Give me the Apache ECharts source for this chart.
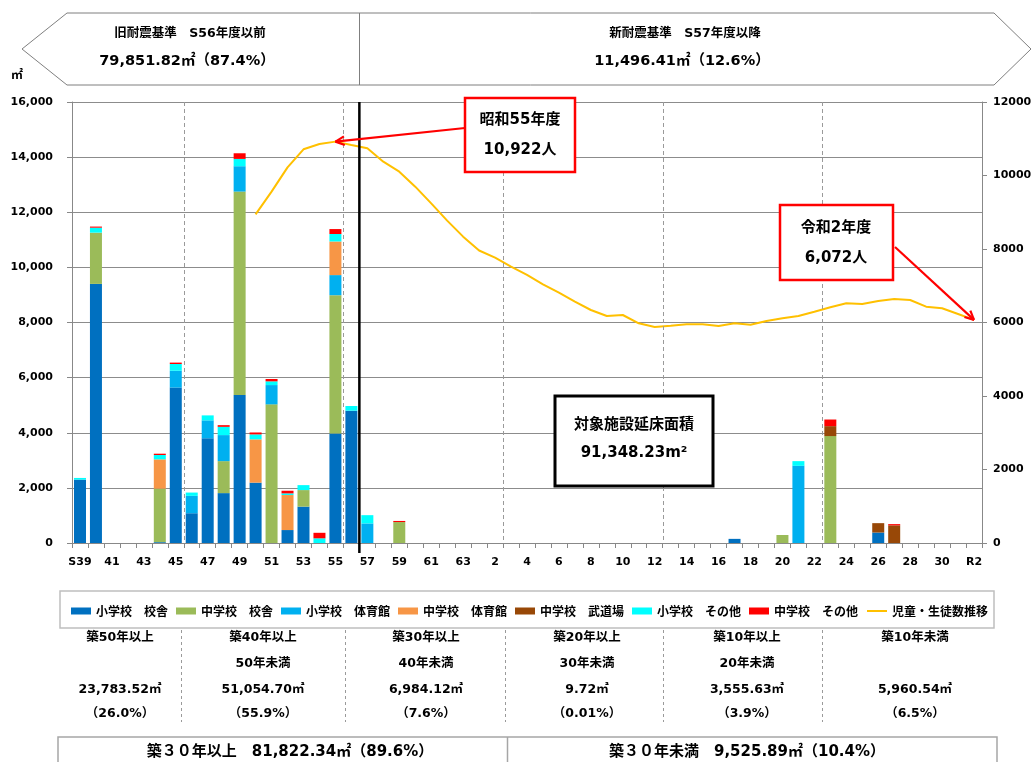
<!DOCTYPE html>
<html>
<head>
<meta charset="utf-8">
<script src="https://cdn.jsdelivr.net/npm/echarts@6/dist/echarts.min.js"></script>
<style>
html,body{margin:0;padding:0;background:#fff;}
#chart{width:1035px;height:762px;}
</style>
</head>
<body>
<div id="chart"></div>
<script>
// 建築年度（S39〜R2、S64/H1 と H31/R1 はそれぞれ 1 年度）
const years = [
  'S39','40','41','42','43','44','45','46','47','48',
  '49','50','51','52','53','54','55','56','57','58',
  '59','60','61','62','63','元','2','3','4','5',
  '6','7','8','9','10','11','12','13','14','15',
  '16','17','18','19','20','21','22','23','24','25',
  '26','27','28','29','30','31','R2'
];

// 延床面積（㎡）
const elemBldg = [
  2300,9400,0,0,0,30,5640,1080,3800,1810,
  5370,2190,0,470,1320,0,3970,4800,0,0,
  0,0,0,0,0,0,0,0,0,0,
  0,0,0,0,0,0,0,0,0,0,
  0,150,0,0,0,0,0,0,0,0,
  380,0,0,0,0,0,0
];
const juniorBldg = [
  0,1860,0,0,0,1940,0,0,0,1160,
  7380,0,5030,0,600,0,5020,0,0,0,
  760,0,0,0,0,0,0,0,0,0,
  0,0,0,0,0,0,0,0,0,0,
  0,0,0,0,290,0,0,3880,0,0,
  0,0,0,0,0,0,0
];
const elemGym = [
  0,0,0,0,0,0,610,630,650,945,
  920,0,700,0,0,0,730,0,710,0,
  0,0,0,0,0,0,0,0,0,0,
  0,0,0,0,0,0,0,0,0,0,
  0,0,0,0,0,2800,0,0,0,0,
  0,0,0,0,0,0,0
];
const juniorGym = [
  0,0,0,0,0,1065,0,0,0,0,
  0,1570,0,1270,0,0,1220,0,0,0,
  0,0,0,0,0,0,0,0,0,0,
  0,0,0,0,0,0,0,0,0,0,
  0,0,0,0,0,0,0,0,0,0,
  0,0,0,0,0,0,0
];
const juniorDojo = [
  0,0,0,0,0,0,0,0,0,0,
  0,0,0,0,0,0,0,0,0,0,
  0,0,0,0,0,0,0,0,0,0,
  0,0,0,0,0,0,0,0,0,0,
  0,0,0,0,0,0,0,360,0,0,
  340,640,0,0,0,0,0
];
const elemOther = [
  60,180,0,0,0,157,245,120,180,300,
  265,180,135,60,180,170,270,170,300,0,
  0,0,0,0,0,0,0,0,0,0,
  0,0,0,0,0,0,0,0,0,0,
  0,0,0,0,0,170,0,0,0,0,
  0,0,0,0,0,0,0
];
const juniorOther = [
  0,40,0,0,0,48,50,0,0,60,
  205,70,85,96,0,200,180,0,0,0,
  40,0,0,0,0,0,0,0,0,0,
  0,0,0,0,0,0,0,0,0,0,
  0,0,0,0,0,0,0,240,0,0,
  0,45,0,0,0,0,0
];

// 児童・生徒数（人）
const students = [
  null,null,null,null,null,null,null,null,null,null,
  null,8944,9560,10222,10713,10857,10922,10830,10740,10376,
  10104,9696,9243,8771,8336,7960,7764,7519,7293,7040,
  6811,6566,6340,6177,6204,5978,5880,5913,5950,5950,
  5905,5978,5940,6041,6114,6177,6294,6413,6522,6503,
  6585,6639,6612,6430,6386,6231,6072
];

const areaTicks = { min: 0, max: 16000, interval: 2000 };
const peopleTicks = { min: 0, max: 12000, interval: 2000 };

const barSeries = [
  { name: '小学校　校舎', data: elemBldg, color: '#0070C0' },
  { name: '中学校　校舎', data: juniorBldg, color: '#9BBB59' },
  { name: '小学校　体育館', data: elemGym, color: '#00B0F0' },
  { name: '中学校　体育館', data: juniorGym, color: '#F79646' },
  { name: '中学校　武道場', data: juniorDojo, color: '#984807' },
  { name: '小学校　その他', data: elemOther, color: '#00FFFF' },
  { name: '中学校　その他', data: juniorOther, color: '#FF0000' }
];
const lineName = '児童・生徒数推移';

const FONT = "'DejaVu Sans','Noto Sans CJK JP',sans-serif";
const JP = "'Noto Sans CJK JP','DejaVu Sans',sans-serif";

const chart = echarts.init(document.getElementById('chart'), null, { renderer: 'canvas' });

const series = barSeries.map(s => ({
  name: s.name,
  type: 'bar',
  stack: 'area',
  barWidth: 12,
  data: s.data,
  itemStyle: { color: s.color },
  emphasis: { disabled: true }
}));
series.push({
  name: lineName,
  type: 'line',
  yAxisIndex: 1,
  data: students,
  symbol: 'none',
  showSymbol: false,
  smooth: false,
  connectNulls: false,
  lineStyle: { color: '#FFC000', width: 2 },
  itemStyle: { color: '#FFC000' },
  z: 5
});

chart.setOption({
  animation: false,
  backgroundColor: '#ffffff',
  grid: { left: 72, right: 53, top: 102, bottom: 219, containLabel: false },
  legend: {
    left: 66,
    top: 600,
    itemWidth: 20,
    itemHeight: 7,
    itemGap: 8,
    selectedMode: false,
    textStyle: { fontSize: 12, fontWeight: 'bold', fontFamily: JP, color: '#000' },
    data: barSeries.map(s => ({ name: s.name, icon: 'rect' })).concat([{
      name: lineName,
      itemStyle: { opacity: 0 },
      lineStyle: { color: '#FFC000', width: 2 }
    }])
  },
  xAxis: {
    type: 'category',
    data: years,
    boundaryGap: true,
    axisLine: { lineStyle: { color: '#888', width: 1 } },
    axisTick: { show: true, interval: 0, length: 5, lineStyle: { color: '#888' } },
    axisLabel: { interval: 1, margin: 14, color: '#000', fontSize: 11, fontWeight: 'bold', fontFamily: FONT },
    splitLine: { show: false }
  },
  yAxis: [
    {
      type: 'value',
      min: areaTicks.min, max: areaTicks.max, interval: areaTicks.interval,
      axisLine: { show: true, lineStyle: { color: '#888' } },
      axisTick: { show: true, length: 5, lineStyle: { color: '#888' } },
      axisLabel: {
        margin: 19, color: '#000', fontSize: 11, fontWeight: 'bold', fontFamily: FONT,
        formatter: v => v.toLocaleString('en-US')
      },
      splitLine: { show: true, lineStyle: { color: '#8c8c8c', width: 1 } }
    },
    {
      type: 'value',
      min: peopleTicks.min, max: peopleTicks.max, interval: peopleTicks.interval,
      position: 'right',
      axisLine: { show: true, lineStyle: { color: '#888' } },
      axisTick: { show: true, length: 5, lineStyle: { color: '#888' } },
      axisLabel: {
        margin: 11, color: '#000', fontSize: 11, fontWeight: 'bold', fontFamily: FONT,
        formatter: v => String(v)
      },
      splitLine: { show: false }
    }
  ],
  series: series
});

// ---- overlay drawing: guides, header, annotations, table ----
const toPx = (idx, v, axis) => chart.convertToPixel({ xAxisIndex: 0, yAxisIndex: axis }, [idx, v]);
const catX = i => toPx(i, 0, 0)[0];
const boundaryX = k => (catX(k - 1) + catX(k)) / 2;
const plotTop = toPx(0, areaTicks.max, 0)[1];
const plotBottom = toPx(0, 0, 0)[1];

const g = [];
const txt = (text, x, y, size, extra) => g.push(Object.assign({
  type: 'text', z: 20,
  style: { text, x, y, align: 'center', verticalAlign: 'middle', fill: '#000',
           font: 'bold ' + size + 'px ' + FONT }
}, extra || {}));
const seg = (x1, y1, x2, y2, stroke, width, dash) => g.push({
  type: 'line', z: 15,
  shape: { x1, y1, x2, y2 },
  style: { stroke, lineWidth: width, lineDash: dash || null }
});

// 築年数区分の境界（破線）
[7, 17, 27, 37, 47].forEach(k => {
  const x = Math.round(boundaryX(k)) + 0.5;
  seg(x, plotTop, x, plotBottom, '#9a9a9a', 1, [4, 3]);
});
// 新耐震基準の境界（S56 / S57）
{
  const x = boundaryX(18);
  seg(x, plotTop, x, plotBottom + 10, '#000', 2.5);
}

// ヘッダー（旧耐震 / 新耐震）
g.push({
  type: 'polygon', z: 10,
  shape: { points: [[22, 49], [67, 13], [994, 13], [1031, 49], [994, 85], [67, 85]] },
  style: { fill: '#fff', stroke: '#7f7f7f', lineWidth: 1 }
});
seg(359.5, 13, 359.5, 85, '#7f7f7f', 1);
txt('旧耐震基準　S56年度以前', 190, 34, 12.5);
txt('79,851.82㎡（87.4%）', 187, 61, 14.5);
txt('新耐震基準　S57年度以降', 685, 34, 12.5);
txt('11,496.41㎡（12.6%）', 682, 61, 14.5);
txt('㎡', 17, 76, 12);

// 注記ボックス
const box = (x, y, w, h, stroke, width) => g.push({
  type: 'rect', z: 18,
  shape: { x, y, width: w, height: h },
  style: { fill: '#fff', stroke, lineWidth: width }
});
const arrow = (x1, y1, x2, y2, color) => {
  seg(x1, y1, x2, y2, color, 2.2);
  const a = Math.atan2(y1 - y2, x1 - x2);
  const L = 10, s = 0.45;
  seg(x2, y2, x2 + L * Math.cos(a + s), y2 + L * Math.sin(a + s), color, 2.2);
  seg(x2, y2, x2 + L * Math.cos(a - s), y2 + L * Math.sin(a - s), color, 2.2);
};

const peak = toPx(16, students[16], 1);
box(465, 98, 110, 74, '#FF0000', 2.5);
txt('昭和55年度', 520, 120, 15);
txt(students[16].toLocaleString('en-US') + '人', 520, 150, 15);
arrow(465, 128, peak[0], peak[1], '#FF0000');

const last = toPx(56, students[56], 1);
box(780, 205, 113, 75, '#FF0000', 2.5);
txt('令和2年度', 836, 228, 15);
txt(students[56].toLocaleString('en-US') + '人', 836, 258, 15);
arrow(895, 247, last[0], last[1], '#FF0000');

box(555, 396, 158, 90, '#000', 3);
txt('対象施設延床面積', 634, 425, 15);
txt('91,348.23m²', 634, 453, 15);

// 凡例枠
g.push({
  type: 'rect', z: 1,
  shape: { x: 60, y: 591, width: 934, height: 37 },
  style: { fill: 'none', stroke: '#bfbfbf', lineWidth: 1.5 }
});

// 築年数別の表
[181, 345, 505, 663, 822].forEach(x => seg(x + 0.5, 630, x + 0.5, 722, '#9a9a9a', 1, [3, 3]));
const cols = [
  { x: 120, rows: ['築50年以上', '', '23,783.52㎡', '（26.0%）'] },
  { x: 263, rows: ['築40年以上', '50年未満', '51,054.70㎡', '（55.9%）'] },
  { x: 426, rows: ['築30年以上', '40年未満', '6,984.12㎡', '（7.6%）'] },
  { x: 587, rows: ['築20年以上', '30年未満', '9.72㎡', '（0.01%）'] },
  { x: 747, rows: ['築10年以上', '20年未満', '3,555.63㎡', '（3.9%）'] },
  { x: 915, rows: ['築10年未満', '', '5,960.54㎡', '（6.5%）'] }
];
const rowY = [638, 664, 690, 714];
cols.forEach(c => c.rows.forEach((t, i) => { if (t) txt(t, c.x, rowY[i], 12.5); }));

// 築30年以上 / 未満 の合計
g.push({
  type: 'rect', z: 10,
  shape: { x: 58, y: 737, width: 939, height: 40 },
  style: { fill: '#fff', stroke: '#a6a6a6', lineWidth: 1.5 }
});
seg(507.5, 737, 507.5, 770, '#a6a6a6', 1.5);
txt('築３０年以上　81,822.34㎡（89.6%）', 290, 752, 15);
txt('築３０年未満　9,525.89㎡（10.4%）', 747, 752, 15);

chart.setOption({ graphic: g });
</script>
</body>
</html>
